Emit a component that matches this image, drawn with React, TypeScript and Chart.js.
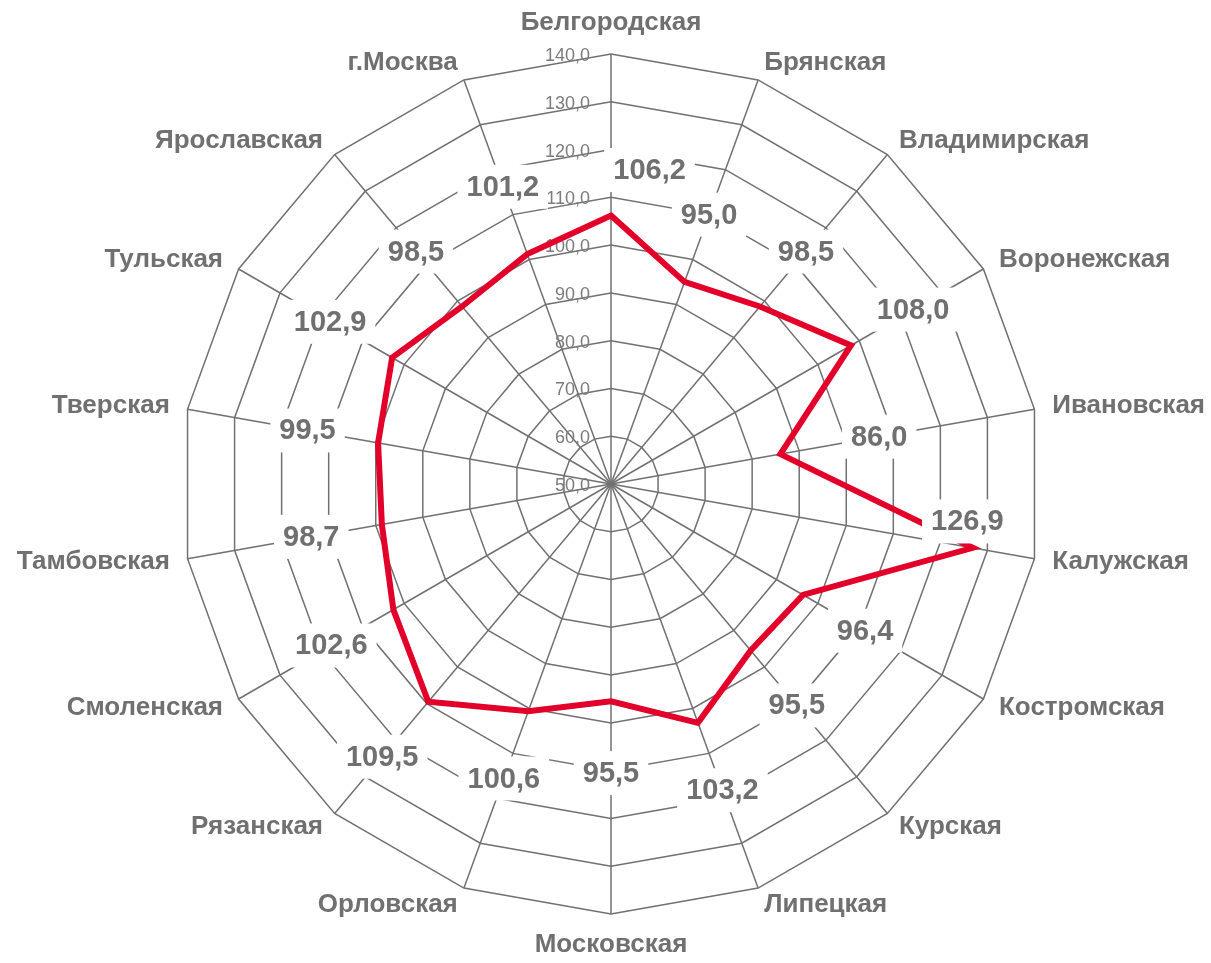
import React, { useEffect, useRef } from "react";
import { Chart, registerables } from "chart.js";

Chart.register(...registerables);

const REGIONS: string[] = [
  "Белгородская",
  "Брянская",
  "Владимирская",
  "Воронежская",
  "Ивановская",
  "Калужская",
  "Костромская",
  "Курская",
  "Липецкая",
  "Московская",
  "Орловская",
  "Рязанская",
  "Смоленская",
  "Тамбовская",
  "Тверская",
  "Тульская",
  "Ярославская",
  "г.Москва",
];

const VALUES: number[] = [
  106.2, 95.0, 98.5, 108.0, 86.0, 126.9, 96.4, 95.5, 103.2, 95.5, 100.6, 109.5,
  102.6, 98.7, 99.5, 102.9, 98.5, 101.2,
];

const TICK_VALUES: number[] = [50, 60, 70, 80, 90, 100, 110, 120, 130, 140];
const TICK_LABELS: string[] = TICK_VALUES.map((v) => v.toFixed(1).replace(".", ","));

const SCALE_MIN = 50;
const SCALE_MAX = 140;

const fmt = (v: number) => v.toFixed(1).replace(".", ",");

const FONT = '"Liberation Sans", Arial, sans-serif';
const LABEL_GRAY = "#707070";
const TICK_GRAY = "#7c7c7c";
const GRID_GRAY = "#717171";
const RED = "#E2002A";

const overlayPlugin = {
  id: "overlay",
  beforeDatasetsDraw(chart: any) {
    const scale = chart.scales.r;
    const ctx = chart.ctx;
    ctx.save();
    ctx.font = `18px ${FONT}`;
    ctx.fillStyle = TICK_GRAY;
    ctx.textAlign = "right";
    ctx.textBaseline = "middle";
    TICK_VALUES.forEach((v, i) => {
      const d = scale.getDistanceFromCenterForValue(v);
      ctx.fillText(TICK_LABELS[i], scale.xCenter - 21, scale.yCenter - d + 2);
    });
    ctx.restore();
  },
  afterDatasetsDraw(chart: any) {
    const scale = chart.scales.r;
    const ctx = chart.ctx;
    const n = REGIONS.length;
    const deg = Math.PI / 180;
    ctx.save();
    // value labels
    ctx.font = `bold 29px ${FONT}`;
    ctx.textAlign = "center";
    ctx.textBaseline = "middle";
    VALUES.forEach((v, i) => {
      let rv = Math.min(125, Math.max(107, v + 15));
      let shift = rv < v + 8 ? -4 * deg : 0;
      if (i === 0) {
        // keep clear of the tick labels on the value axis
        rv = v + 10;
        shift = 7 * deg;
      }
      const ang = scale.getIndexAngle(i) - Math.PI / 2 + shift;
      const d = scale.getDistanceFromCenterForValue(rv);
      const x = scale.xCenter + Math.cos(ang) * d;
      const y = scale.yCenter + Math.sin(ang) * d;
      const txt = fmt(v);
      const w = ctx.measureText(txt).width + 18;
      const h = 44;
      ctx.fillStyle = "#ffffff";
      ctx.fillRect(x - w / 2, y - h / 2, w, h);
      ctx.fillStyle = LABEL_GRAY;
      ctx.fillText(txt, x, y + 1);
    });
    // category labels
    ctx.font = `bold 26px ${FONT}`;
    ctx.fillStyle = LABEL_GRAY;
    REGIONS.forEach((name, i) => {
      const p = scale.getPointPosition(i, scale.drawingArea + 18);
      const a = (i * 360) / n;
      if (a === 0) {
        ctx.textAlign = "center";
        ctx.textBaseline = "bottom";
      } else if (a === 180) {
        ctx.textAlign = "center";
        ctx.textBaseline = "top";
      } else if (a < 180) {
        ctx.textAlign = "left";
        ctx.textBaseline = "middle";
      } else {
        ctx.textAlign = "right";
        ctx.textBaseline = "middle";
      }
      ctx.fillText(name, p.x, p.y);
    });
    ctx.restore();
  },
};

export default function App() {
  const canvasRef = useRef<HTMLCanvasElement | null>(null);

  useEffect(() => {
    if (!canvasRef.current) return;
    const chart = new Chart(canvasRef.current, {
      type: "radar",
      data: {
        labels: REGIONS,
        datasets: [
          {
            data: VALUES,
            borderColor: RED,
            borderWidth: 6,
            borderJoinStyle: "miter",
            pointRadius: 0,
            pointHoverRadius: 0,
            fill: false,
            tension: 0,
          },
        ],
      },
      options: {
        responsive: false,
        animation: false,
        layout: { padding: { left: 181, right: 170, top: 54, bottom: 49 } },
        plugins: {
          legend: { display: false },
          tooltip: { enabled: false },
        },
        scales: {
          r: {
            min: SCALE_MIN,
            max: SCALE_MAX,
            ticks: { display: false, stepSize: 10 },
            grid: { color: GRID_GRAY, lineWidth: 1.5, circular: false },
            angleLines: { color: GRID_GRAY, lineWidth: 1.5 },
            pointLabels: { display: false },
          },
        },
      },
      plugins: [overlayPlugin],
    });
    return () => chart.destroy();
  }, []);

  return (
    <div style={{ position: "absolute", left: 0, top: 0, width: 1211, height: 963 }}>
      <canvas ref={canvasRef} width={1211} height={963} />
    </div>
  );
}
